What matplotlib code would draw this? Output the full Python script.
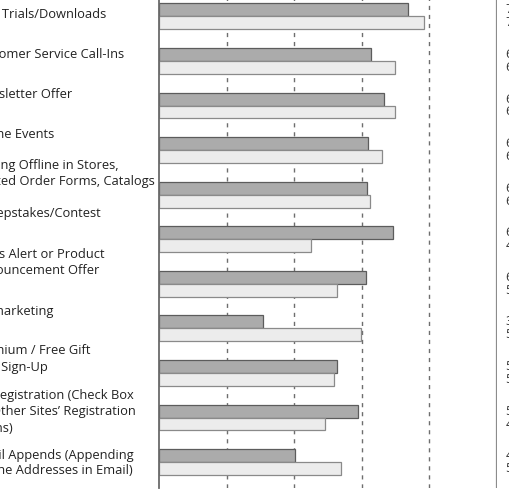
import matplotlib.pyplot as plt
import numpy as np

plt.rcParams['font.family'] = ['Open Sans', 'DejaVu Sans']

categories = [
    "Free Trials/Downloads",
    "Customer Service Call-Ins",
    "Newsletter Offer",
    "Online Events",
    "Signing Offline in Stores,\nPrinted Order Forms, Catalogs",
    "Sweepstakes/Contest",
    "News Alert or Product\nAnnouncement Offer",
    "Co-marketing",
    "Premium / Free Gift\nwith Sign-Up",
    "Co-Registration (Check Box\non Other Sites\u2019 Registration\nForms)",
    "Email Appends (Appending\nOffline Addresses in Email)",
]
series_dark = [73.6, 62.7, 66.5, 61.7, 61.6, 69.1, 61.1, 30.9, 52.7, 58.8, 40.1]
series_light = [78.5, 69.7, 69.7, 66.1, 62.3, 45.1, 52.7, 59.8, 51.9, 49.0, 53.9]
grid_ticks = [20, 40, 60, 80]

# layout (pixels from top) for the category text blocks
label_y_px = [14, 54, 94, 134, 174, 214, 262, 311, 359, 412, 463]
label_x_px = -28

W, H = 510, 500
fig = plt.figure(figsize=(W / 100, H / 100), dpi=100)
ax = fig.add_axes([159 / W, 12 / H, 338 / W, 497.5 / H])

y = np.arange(len(categories))
bh = 0.29

# gridlines behind bars
for g in grid_ticks:
    ax.axvline(g, color='#6e6e6e', lw=1.0, linestyle=(0, (3, 3.5)), zorder=0)
ax.axvline(100, color='#8c8c8c', lw=1.6, zorder=0)

ax.barh(y - bh / 2, series_dark, height=bh, color='#ababab',
        edgecolor='#5c5c5c', linewidth=0.9, zorder=2)
ax.barh(y + bh / 2, series_light, height=bh, color='#ececec',
        edgecolor='#8a8a8a', linewidth=0.9, zorder=2)

ax.set_xlim(0, 100)
ax.set_ylim(len(categories) - 1 + 0.58, -0.58)

for s in ['top', 'right', 'bottom']:
    ax.spines[s].set_visible(False)
ax.spines['left'].set_color('#6a6a6a')
ax.spines['left'].set_linewidth(1.3)
ax.set_xticks([])
ax.set_yticks([])

# value labels to the right of the 100 line (cut by the frame, as in the source)
for yi, vd, vl in zip(y, series_dark, series_light):
    ax.text(102.5, yi - bh / 2, f"{vd:.1f}%", va='center', ha='left',
            fontsize=9.3, color='#333333')
    ax.text(102.5, yi + bh / 2, f"{vl:.1f}%", va='center', ha='left',
            fontsize=9.3, color='#333333')

# category labels
for lab, ypx in zip(categories, label_y_px):
    fig.text(label_x_px / W, 1 - ypx / H, lab, ha='left', va='center',
             fontsize=9.3, color='#222222', linespacing=1.3)

fig.savefig('out.png', dpi=100)
